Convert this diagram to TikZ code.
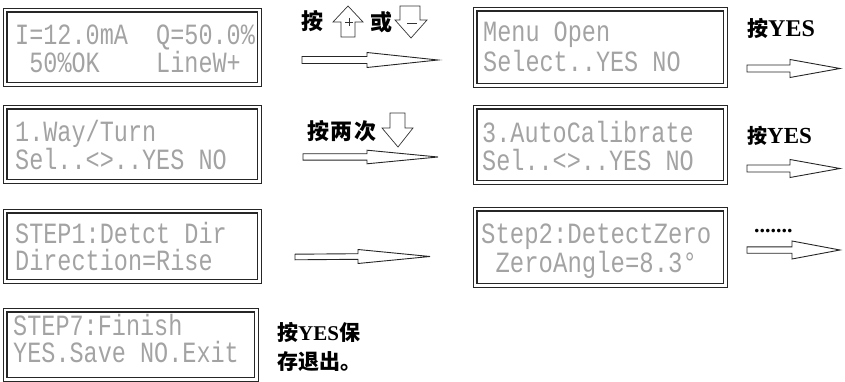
\documentclass[tikz,border=0pt]{standalone}
\usepackage{fontspec}
\setmainfont{Liberation Serif}
\newfontfamily\cjk{Noto Sans CJK SC}
\newfontfamily\lcdfont{Liberation Mono}
% hollow arrow: #1 start coord, #2 tip coord, #3 head length, #4 shaft half width, #5 head half width
\newcommand\fatarrow[5]{%
  \draw[harrow] ([yshift=#4pt]#1) -- ([xshift=-#3pt,yshift=#4pt]#2) -- ([xshift=-#3pt,yshift=#5pt]#2) -- (#2)
    -- ([xshift=-#3pt,yshift=-#5pt]#2) -- ([xshift=-#3pt,yshift=-#4pt]#2) -- ([yshift=-#4pt]#1) -- cycle;}
\newcommand\innerframe[1]{%
  \draw[innerline] ([xshift=4pt,yshift=-4pt]#1.north west) rectangle ([xshift=-4pt,yshift=4pt]#1.south east);}
\begin{document}
\begin{tikzpicture}[x=1pt,y=-1pt,
  lcdbox/.style={draw=black!85, line width=0.8pt, anchor=north west, inner sep=0pt},
  innerline/.style={draw=black!85, line width=1.3pt},
  lcdtext/.style={anchor=base west, inner sep=0pt, text=black!36,
     font=\lcdfont\fontsize{23.5}{28}\selectfont},
  harrow/.style={draw=black!85, line width=0.9pt, line join=miter},
  iconarrow/.style={draw=black!80, line width=0.7pt, line join=miter},
  cn/.style={inner sep=0pt, font=\cjk\bfseries\fontsize{22}{26}\selectfont}
]
\useasboundingbox (0,0) rectangle (845,382);

% ---------- LCD boxes ----------
\node[lcdbox, minimum width=258pt, minimum height=78pt] (b1) at (3,8) {};
\node[lcdbox, minimum width=254pt, minimum height=80pt] (b2) at (473,7) {};
\node[lcdbox, minimum width=258pt, minimum height=78pt] (b3) at (3,105) {};
\node[lcdbox, minimum width=254pt, minimum height=79pt] (b4) at (473,105) {};
\node[lcdbox, minimum width=258pt, minimum height=74pt] (b5) at (3,209) {};
\node[lcdbox, minimum width=254pt, minimum height=80pt] (b6) at (473,207) {};
\node[lcdbox, minimum width=255pt, minimum height=73pt] (b7) at (3,308) {};
\innerframe{b1}\innerframe{b2}\innerframe{b3}\innerframe{b4}
\innerframe{b5}\innerframe{b6}\innerframe{b7}

% ---------- LCD texts ----------
\node[lcdtext] (t1a) at (15,45) {\scalebox{1}[1.25]{I=12.0mA~~Q=50.0\%}};
\node[lcdtext] (t1b) at (15,73) {\scalebox{1}[1.25]{~50\%OK~~~~LineW+}};
\node[lcdtext] (t2a) at (483,42) {\scalebox{1}[1.25]{Menu~Open}};
\node[lcdtext] (t2b) at (483,72) {\scalebox{1}[1.25]{Select..YES~NO}};
\node[lcdtext] (t3a) at (15,142) {\scalebox{1}[1.25]{1.Way/Turn}};
\node[lcdtext] (t3b) at (15,170) {\scalebox{1}[1.25]{Sel..<>..YES~NO}};
\node[lcdtext] (t4a) at (482,143) {\scalebox{1}[1.25]{3.AutoCalibrate}};
\node[lcdtext] (t4b) at (482,171) {\scalebox{1}[1.25]{Sel..<>..YES~NO}};
\node[lcdtext] (t5a) at (15,243) {\scalebox{1}[1.25]{STEP1:Detct~Dir}};
\node[lcdtext] (t5b) at (15,270) {\scalebox{1}[1.25]{Direction=Rise}};
\node[lcdtext] (t6a) at (481,243) {\scalebox{1.02}[1.25]{Step2:DetectZero}};
\node[lcdtext] (t6b) at (481,272) {\scalebox{1.02}[1.25]{~ZeroAngle=8.3°}};
\node[lcdtext] (t7a) at (13,335) {\scalebox{1}[1.25]{STEP7:Finish}};
\node[lcdtext] (t7b) at (13,362) {\scalebox{1}[1.25]{YES.Save~NO.Exit}};

% ---------- hollow arrows ----------
\coordinate (a1s) at (302,60);   \coordinate (a1e) at (438,60);
\coordinate (a2s) at (747,68.5); \coordinate (a2e) at (840,68.5);
\coordinate (a3s) at (303,157);  \coordinate (a3e) at (438,157);
\coordinate (a4s) at (747,168.5);\coordinate (a4e) at (840,168.5);
\coordinate (a5s) at (295,257);  \coordinate (a5e) at (430,256.5);
\coordinate (a6s) at (747,250);  \coordinate (a6e) at (840,250);
\fatarrow{a1s}{a1e}{71}{3.5}{7.5}
\fatarrow{a2s}{a2e}{50}{3.5}{9}
\fatarrow{a3s}{a3e}{71}{3.2}{6.8}
\fatarrow{a4s}{a4e}{50}{3.5}{9}
\fatarrow{a5s}{a5e}{72}{2.8}{7}
\fatarrow{a6s}{a6e}{48}{3.2}{9}

% ---------- up / down key icons ----------
\coordinate (up1) at (348,6);
\draw[iconarrow] (up1) -- (363,22) -- (355,22) -- (355,37) -- (341,37) -- (341,22) -- (333,22) -- cycle;
\draw[iconarrow, line width=0.5pt] (345,22) -- (353,22) (349,18) -- (349,26);
\coordinate (dn1) at (411,38);
\draw[iconarrow] (dn1) -- (427,20) -- (420,20) -- (420,6) -- (400,6) -- (400,20) -- (395,20) -- cycle;
\draw[iconarrow, line width=0.5pt] (407,23.5) -- (417,23.5);
\coordinate (dn2) at (398,147);
\draw[iconarrow] (dn2) -- (413,128) -- (405,128) -- (405,113) -- (390,113) -- (390,128) -- (382,128) -- cycle;

% ---------- labels ----------
\node[cn] (l1) at (312,21) {按};
\node[cn] (l2) at (381,22) {或};
\node[cn] (l3) at (342,131) {按\hspace{2pt}两\hspace{2pt}次};
\node[inner sep=0pt, anchor=west] (l4) at (747,28) {{\cjk\bfseries\fontsize{21}{26}\selectfont 按}{\fontsize{24}{26}\selectfont\bfseries YES}};
\node[inner sep=0pt, anchor=west] (l5) at (747,136) {{\cjk\bfseries\fontsize{20}{26}\selectfont 按}{\fontsize{23}{26}\selectfont\bfseries YES}};
\node[inner sep=0pt, anchor=base west, font=\fontsize{22}{24}\selectfont\bfseries] (l6) at (754,232) {.......};
\node[inner sep=0pt, anchor=west] (l7) at (277,332) {{\cjk\bfseries\fontsize{21}{26}\selectfont 按}{\fontsize{21}{26}\selectfont\bfseries YES}{\cjk\bfseries\fontsize{21}{26}\selectfont 保}};
\node[inner sep=0pt, anchor=west] (l8) at (277,362) {{\cjk\bfseries\fontsize{21}{26}\selectfont 存退出。}};
\end{tikzpicture}
\end{document}
